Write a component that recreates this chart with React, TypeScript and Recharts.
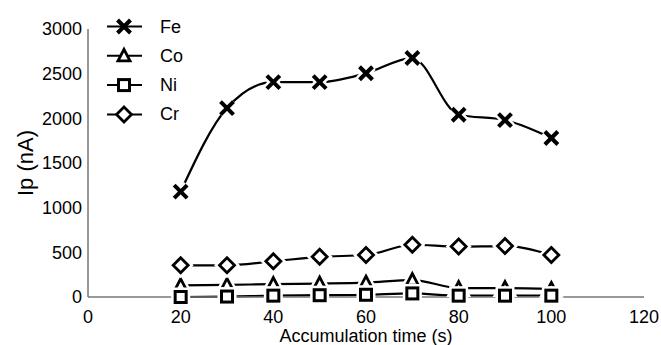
import { Line, LineChart, XAxis, YAxis } from "recharts";

// page has a default 8px body margin; drop it so the chart fills the 661x345 window
if (typeof document !== "undefined") document.body.style.margin = "0";

const times = [20, 30, 40, 50, 60, 70, 80, 90, 100];
const fe = [1180, 2115, 2405, 2405, 2505, 2675, 2040, 1980, 1780];
const co = [130, 135, 145, 150, 160, 190, 100, 100, 90];
const ni = [0, 5, 15, 20, 25, 40, 15, 15, 15];
const cr = [355, 355, 400, 450, 470, 585, 565, 570, 470];
const xTicks = [0, 20, 40, 60, 80, 100, 120];
const yTicks = [0, 500, 1000, 1500, 2000, 2500, 3000];

const series = [
  { key: "Fe", values: fe },
  { key: "Co", values: co },
  { key: "Ni", values: ni },
  { key: "Cr", values: cr },
];

const data = times.map((t, i) => ({
  t,
  Fe: fe[i],
  Co: co[i],
  Ni: ni[i],
  Cr: cr[i],
}));

const FONT = "'Liberation Sans', Arial, sans-serif";
const TICK = { fontSize: 18, fill: "#000", fontFamily: FONT };

function markerPaths(kind: string, cx: number, cy: number, halo: boolean) {
  const stroke = halo ? "#fff" : "#000";
  const extra = halo ? 5 : 0;
  if (kind === "Fe") {
    const r = 6.5;
    return (
      <g stroke={stroke} strokeWidth={4 + extra} strokeLinecap="butt">
        <line x1={cx - r} y1={cy - r} x2={cx + r} y2={cy + r} />
        <line x1={cx - r} y1={cy + r} x2={cx + r} y2={cy - r} />
      </g>
    );
  }
  if (kind === "Co") {
    const p = `${cx},${cy - 6.5} ${cx + 6},${cy + 5} ${cx - 6},${cy + 5}`;
    return <polygon points={p} fill="#fff" stroke={stroke} strokeWidth={2.8 + extra} />;
  }
  if (kind === "Ni") {
    return (
      <rect x={cx - 5.5} y={cy - 5.5} width={11} height={11} fill="#fff" stroke={stroke} strokeWidth={3 + extra} />
    );
  }
  const p = `${cx},${cy - 7.5} ${cx + 7.5},${cy} ${cx},${cy + 7.5} ${cx - 7.5},${cy}`;
  return <polygon points={p} fill="#fff" stroke={stroke} strokeWidth={2.8 + extra} />;
}

function makeDot(kind: string) {
  return (props: any) => {
    const { cx, cy, index } = props;
    if (cx == null || cy == null) return <g key={index} />;
    return (
      <g key={`${kind}-${index}`}>
        {markerPaths(kind, cx, cy, true)}
        {markerPaths(kind, cx, cy, false)}
      </g>
    );
  };
}

// legend drawn on top of the chart, like the spreadsheet original
function LegendBox() {
  return (
    <svg width={90} height={125} style={{ position: "absolute", left: 105, top: 15 }}>
      {series.map((s, i) => {
        const y = 11.5 + i * 29.3;
        return (
          <g key={s.key}>
            <line x1={2} y1={y} x2={37} y2={y} stroke="#000" strokeWidth={2} />
            {markerPaths(s.key, 19, y, false)}
            <text x={55} y={y} dominantBaseline="central" fontSize={18} fontFamily={FONT} fill="#000">
              {s.key}
            </text>
          </g>
        );
      })}
    </svg>
  );
}

export default function App() {
  return (
    <div style={{ position: "relative", width: 661, height: 345 }}>
      <LineChart width={661} height={345} data={data} margin={{ top: 29, right: 17, bottom: 18, left: 0 }}>
        <XAxis
          dataKey="t"
          type="number"
          domain={[0, 120]}
          ticks={xTicks}
          tickLine={false}
          axisLine={{ stroke: "#777", strokeWidth: 1.5 }}
          tick={TICK}
          tickMargin={7}
          label={{ value: "Accumulation time (s)", position: "insideBottom", offset: 0, dy: 15, ...TICK }}
        />
        <YAxis
          type="number"
          domain={[0, 3000]}
          ticks={yTicks}
          width={88}
          tickLine={false}
          axisLine={{ stroke: "#777", strokeWidth: 1.5 }}
          tick={TICK}
          tickMargin={0}
          label={{ value: "Ip (nA)", angle: -90, position: "insideLeft", dx: 20, fontSize: 22, fill: "#000", fontFamily: FONT, style: { textAnchor: "middle" } }}
        />
        {series.map((s) => (
          <Line
            key={s.key}
            dataKey={s.key}
            type="monotone"
            stroke="#000"
            strokeWidth={2.2}
            dot={makeDot(s.key)}
            activeDot={false}
            isAnimationActive={false}
          />
        ))}
      </LineChart>
      <LegendBox />
    </div>
  );
}
